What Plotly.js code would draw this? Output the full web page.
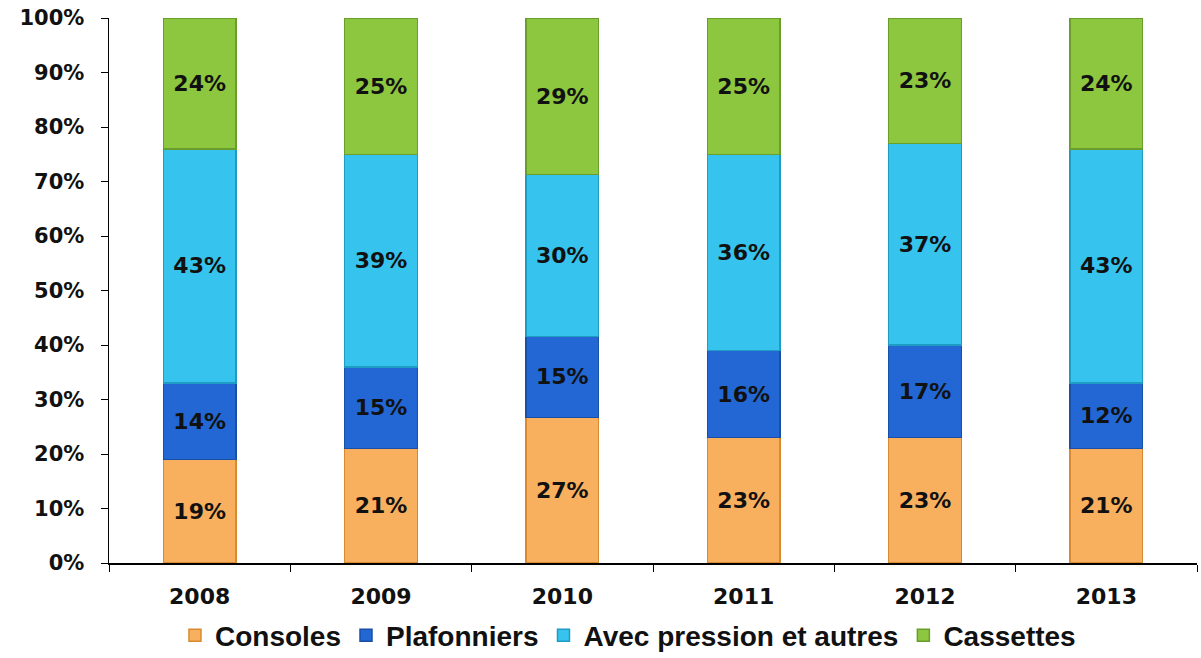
<!DOCTYPE html>
<html>
<head>
<meta charset="utf-8">
<script src="https://cdn.plot.ly/plotly-3.0.1.min.js"></script>
<style>html,body{margin:0;padding:0;background:#fff}#chart{width:1201px;height:658px}</style>
</head>
<body>
<div id="chart"></div>
<script>
const years = ['2008','2009','2010','2011','2012','2013'];
const consoles = [19,21,27,23,23,21];
const plafonniers = [14,15,15,16,17,12];
const avecPression = [43,39,30,36,37,43];
const cassettes = [24,25,29,25,23,24];
const seriesNames = ['Consoles','Plafonniers','Avec pression et autres','Cassettes'];
const seriesColors = ['#F8AF5E','#2267D3','#36C4EE','#8DC63F'];
const seriesLines = ['#D98A30','#1A4FA8','#1E9CC4','#6A9E2A'];
const allSeries = [consoles, plafonniers, avecPression, cassettes];
const yTickVals = [0,10,20,30,40,50,60,70,80,90,100];
const yTickText = ['0%','10%','20%','30%','40%','50%','60%','70%','80%','90%','100%'];

const traces = allSeries.map((vals, i) => ({
  type: 'bar',
  name: seriesNames[i],
  x: years,
  y: vals,
  text: vals.map(v => v + '%'),
  textposition: 'inside',
  insidetextanchor: 'middle',
  textangle: 0,
  constraintext: 'none',
  textfont: {family: 'DejaVu Sans', size: 22, color: '#111', weight: 'bold'},
  hoverinfo: 'skip',
  marker: {color: seriesColors[i], line: {color: seriesLines[i], width: 1.5}}
}));

const layout = {
  width: 1201, height: 658,
  margin: {l: 109, r: 4, t: 18, b: 95, autoexpand: false},
  barmode: 'stack',
  barnorm: 'percent',
  bargap: 0.6,
  paper_bgcolor: '#fff', plot_bgcolor: '#fff',
  showlegend: true,
  legend: {
    orientation: 'h', x: 0.477, xanchor: 'center', y: -0.133, yanchor: 'middle',
    font: {family: 'Liberation Sans', size: 28, color: '#111', weight: 'bold'},
    itemwidth: 30, tracegroupgap: 0, traceorder: 'normal', borderwidth: 0
  },
  xaxis: {
    type: 'category',
    showline: true, linecolor: '#000', linewidth: 1.5,
    ticks: 'outside', ticklen: 7, tickcolor: '#000', tickson: 'boundaries',
    ticklabelstandoff: 13,
    tickfont: {family: 'DejaVu Sans', size: 22, color: '#111', weight: 'bold'},
    showgrid: false, zeroline: false
  },
  yaxis: {
    range: [0, 100],
    tickvals: yTickVals,
    ticktext: yTickText,
    showline: true, linecolor: '#000', linewidth: 1.5,
    ticks: 'outside', ticklen: 7, tickcolor: '#000',
    ticklabelstandoff: 12,
    tickfont: {family: 'DejaVu Sans', size: 21, color: '#111', weight: 'bold'},
    showgrid: false, zeroline: false
  }
};

Plotly.newPlot('chart', traces, layout, {displayModeBar: false, staticPlot: true});
</script>
</body>
</html>
